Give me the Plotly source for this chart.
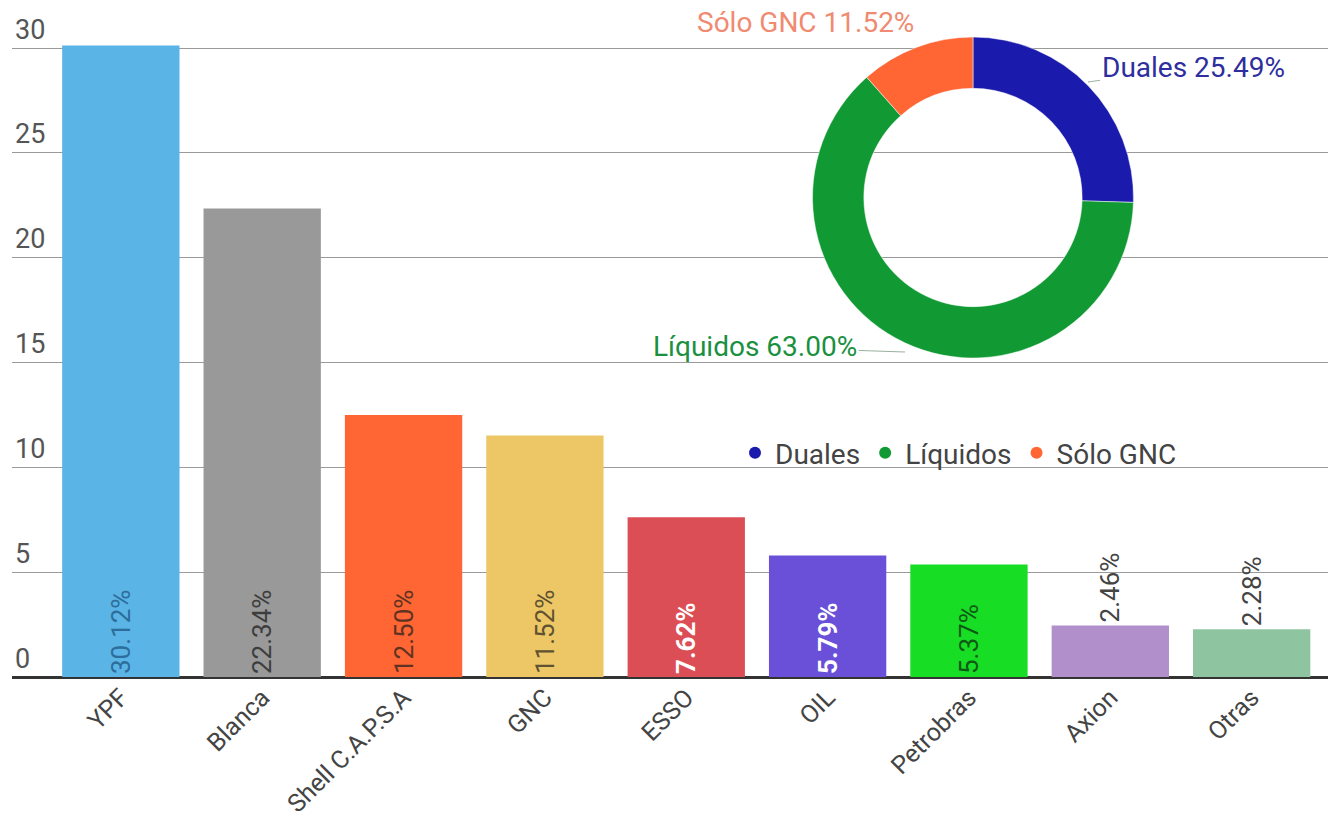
import plotly.graph_objects as go

# Bar data
brands = ["YPF", "Blanca", "Shell C.A.P.S.A", "GNC", "ESSO", "OIL", "Petrobras", "Axion", "Otras"]
shares = [30.12, 22.34, 12.50, 11.52, 7.62, 5.79, 5.37, 2.46, 2.28]
bar_colors = ["#5ab4e5", "#999999", "#ff6633", "#edc766", "#dc4e55", "#6a4fd8", "#18dd25", "#b08fca", "#8fc4a1"]
label_colors = ["#2d6d9b", "#3d3d3d", "#5e3322", "#5f5230", "#ffffff", "#ffffff", "#0d5a14", "#444444", "#444444"]
label_bold = [False, False, False, False, True, True, False, False, False]
label_pos = ["inside"] * 7 + ["outside"] * 2

# Donut data
fuel_types = ["Duales", "Líquidos", "Sólo GNC"]
fuel_shares = [25.49, 63.00, 11.52]
fuel_colors = ["#1a1aad", "#119933", "#ff6633"]
fuel_text_colors = ["#2e2e9e", "#1a9040", "#f08a70"]

ticks_y = [0, 5, 10, 15, 20, 25, 30]

W, H = 1328, 824
ML, MR, MT, MB = 12, 0, 4, 147
PW, PH = W - ML - MR, H - MT - MB
Y_TOP = PH / (629.0 / 30.0)


def px(x):
    return (x - ML) / PW


def py(y):
    return (H - MB - y) / PH


bar_text = [("<b>%.2f%%</b>" % v) if b else ("%.2f%%" % v) for v, b in zip(shares, label_bold)]

fig = go.Figure()
fig.add_trace(go.Bar(
    x=list(range(len(brands))), y=shares,
    marker=dict(color=bar_colors, line=dict(width=0)),
    width=0.83,
    text=bar_text, textposition=label_pos, textangle=-90,
    insidetextanchor="start",
    textfont=dict(family="Roboto", size=26, color=label_colors),
    cliponaxis=False,
    showlegend=False, hoverinfo="skip",
))

fig.add_trace(go.Pie(
    labels=fuel_types, values=fuel_shares,
    marker=dict(colors=fuel_colors, line=dict(color="#ffffff", width=0.5)),
    hole=0.68, sort=False, direction="clockwise", rotation=0,
    textinfo="none",
    domain=dict(x=[px(812), px(1134)], y=[py(358), py(37)]),
    showlegend=False, hoverinfo="skip",
))

# legend entries as circles
for name, col in zip(fuel_types, fuel_colors):
    fig.add_trace(go.Scatter(
        x=[None], y=[None], mode="markers", name=name,
        marker=dict(symbol="circle", size=22, color=col),
        showlegend=True,
    ))

# donut outside labels (tip on ring, text offset)
tips = [(1088, 82), (905, 352), (910, 40)]
offsets = [(105, -15), (-150, -5), (-105, -18)]
for name, val, col, (tx, ty), (ox, oy) in zip(fuel_types, fuel_shares, fuel_text_colors, tips, offsets):
    fig.add_annotation(
        x=px(tx), y=py(ty), xref="paper", yref="paper",
        text="%s %.2f%%" % (name, val), showarrow=True,
        ax=ox, ay=oy, arrowhead=0, arrowwidth=1, arrowcolor="#9ab0a0",
        font=dict(family="Roboto", size=28, color=col),
    )

fig.update_layout(
    width=W, height=H,
    margin=dict(l=ML, r=MR, t=MT, b=MB),
    paper_bgcolor="#ffffff", plot_bgcolor="#ffffff",
    font=dict(family="Roboto", color="#444444"),
    xaxis=dict(
        range=[-0.77, 8.54], automargin=False,
        tickmode="array", tickvals=list(range(len(brands))), ticktext=brands,
        tickangle=-45, tickfont=dict(size=25, color="#444444"),
        showgrid=False, zeroline=False, showline=False, ticks="",
    ),
    yaxis=dict(
        range=[0, Y_TOP], automargin=False,
        tickmode="array", tickvals=ticks_y,
        ticklabelposition="inside top",
        tickfont=dict(size=27, color="#555555"),
        showgrid=True, gridcolor="#9a9a9a", gridwidth=1,
        zeroline=True, zerolinecolor="#333333", zerolinewidth=3,
        showline=False, ticks="",
    ),
    legend=dict(
        orientation="h", x=px(735), y=py(453), xanchor="left", yanchor="middle",
        font=dict(family="Roboto", size=28, color="#444444"),
        bgcolor="rgba(0,0,0,0)", itemsizing="constant",
    ),
    bargap=0.17,
)

fig.write_html("out.html", config={"displayModeBar": False},
               post_script="document.body.style.margin='0';document.body.style.padding='0';")
